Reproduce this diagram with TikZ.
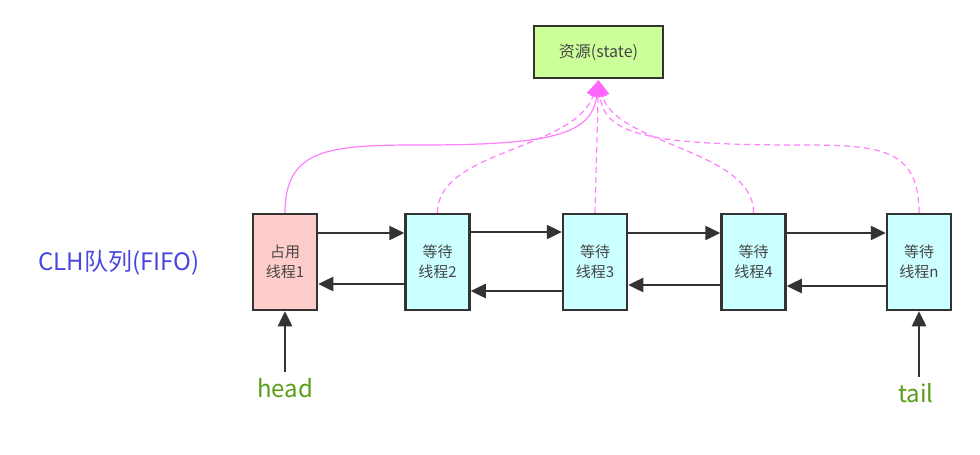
\documentclass[tikz,border=0pt]{standalone}
\usepackage{fontspec}
\setmainfont{Noto Sans CJK SC}
\usetikzlibrary{arrows.meta}
\definecolor{bordc}{HTML}{333333}
\definecolor{pinkfill}{HTML}{FFCCCC}
\definecolor{cyanfill}{HTML}{CCFFFF}
\definecolor{greenfill}{HTML}{CCFF99}
\definecolor{linkc}{HTML}{FF80FF}
\definecolor{tipc}{HTML}{FF66FF}
\definecolor{labgreen}{HTML}{5A9E1A}
\definecolor{labblue}{HTML}{4848E0}
\tikzset{
  thread/.style={draw=bordc, line width=2.5pt, minimum width=64pt, minimum height=96pt,
    inner sep=0pt, align=center, font=\fontsize{15}{20}\selectfont, text=bordc!90},
  statebox/.style={draw=bordc, line width=2.5pt, fill=greenfill, minimum width=129pt,
    minimum height=52pt, inner sep=0pt, font=\fontsize{16}{18}\selectfont, text=bordc!90},
  arr/.style={draw=bordc, line width=2.5pt, -{Triangle[length=15pt,width=14pt]}},
  link/.style={draw=linkc, line width=1.2pt},
  dlink/.style={link, dash pattern=on 6pt off 4pt},
  linktip/.style={-{Triangle[length=16pt,width=14pt,fill=tipc,color=tipc]}},
  lab/.style={text=labgreen, font=\fontsize{24}{28}\selectfont, inner sep=0pt}
}
\begin{document}
\begin{tikzpicture}[x=1pt,y=-1pt]
\useasboundingbox[fill=white] (0,0) rectangle (980,455);
\node[statebox] (st) at (598.5,52) {资源(state)};
\node[thread, fill=pinkfill] (n1) at (285,262) {占用\\线程1};
\node[thread, fill=cyanfill] (n2) at (437.5,262) {等待\\线程2};
\node[thread, fill=cyanfill] (n3) at (595,262) {等待\\线程3};
\node[thread, fill=cyanfill] (n4) at (753.5,262) {等待\\线程4};
\node[thread, fill=cyanfill] (nn) at (919,262) {等待\\线程n};
\node[text=labblue, font=\fontsize{24}{28}\selectfont, inner sep=0pt] (clh) at (119,263) {CLH队列(FIFO)};
\node[lab, anchor=base] (head) at (285,397) {head};
\node[lab, anchor=base] (tail) at (916,402) {tail};
% links to state
\draw[link, linktip] (n1.north) .. controls (285,148) and (330,145) .. (420,145)
  .. controls (550,145) and (592,135) .. ([yshift=-1pt]st.south);
\draw[dlink, linktip] (n2.north) .. controls (437,150) and (575,150) .. ([yshift=-1pt]st.south);
\draw[dlink, linktip] (n3.north) -- ([yshift=-1pt]st.south);
\draw[dlink, linktip] (n4.north) .. controls (754,150) and (615,145) .. ([yshift=-1pt]st.south);
\draw[dlink, linktip] (nn.north) .. controls (919,148) and (880,145) .. (800,145)
  .. controls (650,145) and (604,135) .. ([yshift=-1pt]st.south);
% forward arrows
\draw[arr] ([yshift=29pt]n1.east) -- ([yshift=29pt]n2.west);
\draw[arr] ([yshift=30pt]n2.east) -- ([yshift=30pt]n3.west);
\draw[arr] ([yshift=29pt]n3.east) -- ([yshift=29pt]n4.west);
\draw[arr] ([yshift=29pt]n4.east) -- ([yshift=29pt]nn.west);
% backward arrows
\draw[arr] ([yshift=-22pt]n2.west) -- ([yshift=-22pt]n1.east);
\draw[arr] ([yshift=-29pt]n3.west) -- ([yshift=-29pt]n2.east);
\draw[arr] ([yshift=-23pt]n4.west) -- ([yshift=-23pt]n3.east);
\draw[arr] ([yshift=-24pt]nn.west) -- ([yshift=-24pt]n4.east);
% head / tail
\draw[arr] ([yshift=6pt]head.north) -- (n1.south);
\draw[arr] ([xshift=3pt,yshift=6pt]tail.north) -- (nn.south);
\end{tikzpicture}
\end{document}
